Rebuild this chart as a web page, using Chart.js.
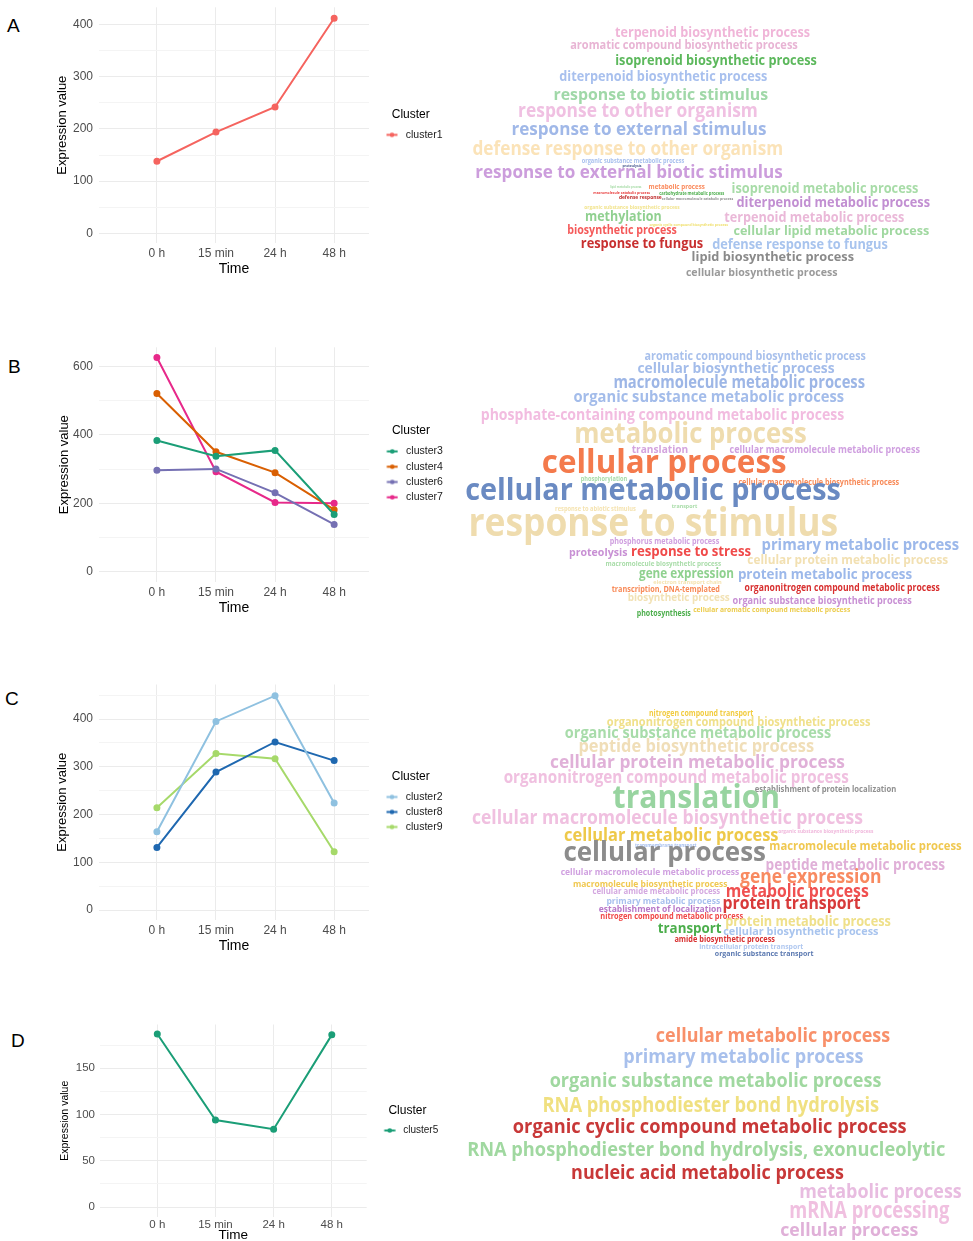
<!DOCTYPE html>
<html>
<head>
<meta charset="utf-8">
<script src="https://cdn.jsdelivr.net/npm/chart.js@4.4.1/dist/chart.umd.min.js"></script>
<style>
html, body { margin: 0; padding: 0; background: #fff; }
body { width: 973px; height: 1241px; overflow: hidden; position: relative; font-family: "Liberation Sans", Arial, sans-serif; }
canvas, .tag { position: absolute; }
.tag { font-size: 19px; line-height: 1; color: #000; }
</style>
</head>
<body>
<div class="tag" style="left:7px;top:15.5px">A</div>
<div class="tag" style="left:8px;top:356.5px">B</div>
<div class="tag" style="left:5px;top:688.5px">C</div>
<div class="tag" style="left:11px;top:1030.5px">D</div>

<canvas id="lineA" width="460" height="279" style="left:0;top:0"></canvas>
<canvas id="lineB" width="460" height="278" style="left:0;top:340px"></canvas>
<canvas id="lineC" width="460" height="276" style="left:0;top:680px"></canvas>
<canvas id="lineD" width="460" height="225" style="left:0;top:1020px"></canvas>

<canvas id="cloudA" width="513" height="270" style="left:460px;top:20px"></canvas>
<canvas id="cloudB" width="513" height="285" style="left:460px;top:340px"></canvas>
<canvas id="cloudC" width="513" height="265" style="left:460px;top:700px"></canvas>
<canvas id="cloudD" width="513" height="226" style="left:460px;top:1015px"></canvas>

<script>
// ---------------- DATA ----------------
var timeLabels = ['0 h', '15 min', '24 h', '48 h'];

// panel A
var clustersA = ['cluster1'];
var cluster1 = [138, 194, 242, 412];
var yTicksA = [0, 100, 200, 300, 400];

// panel B
var clustersB = ['cluster3', 'cluster4', 'cluster6', 'cluster7'];
var cluster3 = [384, 338, 355, 168];
var cluster4 = [521, 351, 290, 182];
var cluster6 = [297, 301, 231, 139];
var cluster7 = [626, 293, 203, 201];
var yTicksB = [0, 200, 400, 600];

// panel C
var clustersC = ['cluster2', 'cluster8', 'cluster9'];
var cluster2 = [164, 395, 449, 224];
var cluster8 = [131, 289, 352, 313];
var cluster9 = [214, 328, 317, 122];
var yTicksC = [0, 100, 200, 300, 400];

// panel D
var clustersD = ['cluster5'];
var cluster5 = [187, 94, 84, 186];
var yTicksD = [0, 50, 100, 150];

// word clouds: GO terms and their weights
var termsA = ['terpenoid biosynthetic process', 'aromatic compound biosynthetic process', 'isoprenoid biosynthetic process',
  'diterpenoid biosynthetic process', 'response to biotic stimulus', 'response to other organism',
  'response to external stimulus', 'defense response to other organism', 'organic substance metabolic process',
  'proteolysis', 'response to external biotic stimulus', 'lipid metabolic process', 'metabolic process',
  'macromolecule catabolic process', 'carbohydrate metabolic process', 'defense response',
  'cellular macromolecule catabolic process', 'organic substance biosynthetic process', 'isoprenoid metabolic process',
  'diterpenoid metabolic process', 'methylation', 'terpenoid metabolic process',
  'organic cyclic compound biosynthetic process', 'biosynthetic process', 'cellular lipid metabolic process',
  'response to fungus', 'defense response to fungus', 'lipid biosynthetic process', 'cellular biosynthetic process'];
var weightsA = [15.3, 14.1, 15.3, 15.3, 18.7, 21.7, 20.7, 21.5, 6.9, 4.1, 20.1, 3.2, 7.8, 4.3, 5.1, 6.3, 4.2, 5.9,
  15.7, 15.7, 16.4, 15.7, 4.2, 12.9, 14.4, 16, 15.9, 14.7, 12.3];

var termsB = ['aromatic compound biosynthetic process', 'cellular biosynthetic process', 'macromolecule metabolic process',
  'organic substance metabolic process', 'phosphate-containing compound metabolic process', 'metabolic process',
  'translation', 'cellular macromolecule metabolic process', 'cellular process', 'phosphorylation',
  'cellular macromolecule biosynthetic process', 'cellular metabolic process', 'transport',
  'response to abiotic stimulus', 'response to stimulus', 'phosphorus metabolic process', 'proteolysis',
  'response to stress', 'primary metabolic process', 'cellular protein metabolic process',
  'macromolecule biosynthetic process', 'gene expression', 'protein metabolic process', 'electron transport chain',
  'transcription, DNA-templated', 'organonitrogen compound metabolic process', 'biosynthetic process',
  'organic substance biosynthetic process', 'photosynthesis', 'cellular aromatic compound metabolic process'];
var weightsB = [13.7, 16, 19.1, 18.2, 18.2, 32.2, 12.1, 11.2, 36, 7.3, 8.8, 34, 6.7, 6.8, 43.5, 9.2, 12.5, 15.7,
  18.6, 13.9, 8, 14.9, 16.4, 6.7, 9.1, 11.2, 12, 11.1, 9.1, 8.4];

var termsC = ['nitrogen compound transport', 'organonitrogen compound biosynthetic process',
  'organic substance metabolic process', 'peptide biosynthetic process', 'cellular protein metabolic process',
  'organonitrogen compound metabolic process', 'establishment of protein localization', 'translation',
  'cellular macromolecule biosynthetic process', 'organic substance biosynthetic process',
  'cellular metabolic process', 'transmembrane transport', 'macromolecule metabolic process', 'cellular process',
  'peptide metabolic process', 'cellular macromolecule metabolic process', 'gene expression',
  'macromolecule biosynthetic process', 'cellular amide metabolic process', 'metabolic process',
  'primary metabolic process', 'protein transport', 'establishment of localization',
  'nitrogen compound metabolic process', 'protein metabolic process', 'transport', 'cellular biosynthetic process',
  'amide biosynthetic process', 'intracellular protein transport', 'organic substance transport'];
var weightsC = [9.1, 14.1, 17.9, 19.8, 20.4, 19.8, 9, 35.8, 21.4, 5.9, 19.4, 6.3, 14.6, 29.8, 16.9, 10.5, 22.2,
  10.7, 9.4, 19.8, 10.7, 19.1, 10, 9.6, 15.6, 16.7, 12.6, 9.1, 7.9, 8.6];

var termsD = ['cellular metabolic process', 'primary metabolic process', 'organic substance metabolic process',
  'RNA phosphodiester bond hydrolysis', 'organic cyclic compound metabolic process',
  'RNA phosphodiester bond hydrolysis, exonucleolytic', 'nucleic acid metabolic process', 'metabolic process',
  'mRNA processing', 'cellular process'];
var weightsD = [21.2, 22.6, 22.3, 23.3, 22.6, 22.5, 21.4, 22.5, 25.1, 20.3];

// ---------------- STYLE / LAYOUT ----------------
var colorsA = ['#f0b5d8', '#e8b4d4', '#5cb85c', '#a8c0ee', '#a0d8a8', '#f0c0e2', '#a0b8e8', '#fbe3b8', '#a8c0ee',
  '#4a5a90', '#cc9ddc', '#a8dca8', '#fb8a5c', '#e84040', '#4cae4c', '#c03030', '#909090', '#f2e48e', '#a8dca8',
  '#c28fd2', '#90d090', '#eab8d8', '#f0e070', '#f55a5a', '#a0d8a0', '#c83030', '#a8c4ee', '#8a8a8a', '#9a9a9a'];
var colorsB = ['#a8c0ec', '#a3bcea', '#9db6e6', '#a3bcea', '#f2bce0', '#efdcae', '#d4a4de', '#d0a0e0', '#f47a4c',
  '#a8dca8', '#f88a58', '#6a8ac2', '#a8dca8', '#f5e3b0', '#efdcae', '#d0a0e0', '#c890d4', '#f04a4a', '#9cb8ea',
  '#f2e0b2', '#a8dca8', '#8fd18f', '#9cb8ea', '#f5e3b0', '#f88a58', '#d83030', '#f2e2b5', '#c890d4', '#4cae4c',
  '#eccc4c'];
var colorsC = ['#f2cc40', '#f0e08a', '#a8dcaa', '#f0deb8', '#e0b0d8', '#f0c0e0', '#909090', '#98d4a0', '#f0c0e0',
  '#f0b8dc', '#eec94a', '#a8c0ee', '#f0c850', '#8c8c8c', '#e0b0d8', '#d0a0e0', '#f88a60', '#f0c850', '#d4a8e0',
  '#f05050', '#a8c0ee', '#d83a3a', '#b878c8', '#f04848', '#efe08a', '#4cae4c', '#a8c4ee', '#d83030', '#b0c8f0',
  '#5a78b0'];
var colorsD = ['#f8906a', '#a8c0ec', '#a0d8a0', '#f0e080', '#c83838', '#a0d8a0', '#c83838', '#e8bce0', '#f0c0e0',
  '#e0b0d8'];

// word centres in page pixels
var placeA = [[712.5, 33.3], [684, 45], [716, 61], [663.3, 77.3], [660.8, 95], [638, 111.7], [639, 130],
  [627.8, 149.3], [633, 161], [632, 165.7], [629, 173.3], [625.8, 186.7], [676.7, 186.7], [621.7, 193.3],
  [691.7, 193.7], [640.3, 197.3], [697.5, 199], [632, 207], [825, 189.3], [833.3, 203.3], [623.3, 216.7],
  [814.3, 218.3], [688.7, 224.7], [622, 230.7], [831.3, 231.7], [642, 244], [800, 245], [772.8, 257.3],
  [761.7, 273.3]];
var placeB = [[755.2, 356.7], [736, 369.3], [739.2, 383.3], [708.8, 397.7], [662.5, 415], [690.5, 435], [660, 450],
  [824.7, 450], [664.2, 464], [604, 479], [818.8, 482.3], [653, 491.7], [684.5, 506.7], [595.5, 509.3],
  [653.3, 525], [664.5, 542], [598.2, 552.7], [691, 551.7], [860.3, 545], [847.8, 560.7], [663.3, 564],
  [686.5, 574.3], [825, 575], [687.5, 582.7], [665.8, 589.7], [842.2, 588.3], [678.8, 598.3], [822.2, 600.7],
  [663.8, 613.3], [771.7, 610]];
var placeC = [[701.2, 713.3], [738.7, 722.7], [698, 733.3], [696.3, 746.7], [697.5, 762.7], [676.2, 778.3],
  [825.5, 789.3], [696.3, 799.3], [667.5, 818.3], [825.8, 831], [671.3, 835.7], [665.8, 845], [865.5, 846.7],
  [664.7, 853.3], [855.3, 865.7], [650, 872.3], [810.8, 877.7], [650.2, 884], [656.3, 892], [797.3, 891.7],
  [663.3, 901], [791.5, 904.3], [660.3, 909.3], [671.7, 916.7], [808, 921.7], [689.7, 928.3], [800.8, 931.7],
  [724.7, 940], [751.2, 946.7], [764.2, 953.3]];
var placeD = [[773, 1036.7], [743.3, 1057.3], [715.5, 1081.7], [710.8, 1106], [709.7, 1127.3], [706.2, 1150.7],
  [707.5, 1174], [880.5, 1192.3], [869.3, 1211.7], [849.2, 1230.7]];

Chart.defaults.font.family = '"Liberation Sans", Arial, sans-serif';
Chart.defaults.animation = false;

// small line+dot key like ggplot's legend
function legendKey(color) {
    var c = document.createElement('canvas');
    c.width = 22; c.height = 7;
    var g = c.getContext('2d');
    g.strokeStyle = color; g.lineWidth = 2;
    g.beginPath(); g.moveTo(10.5, 3.5); g.lineTo(21.5, 3.5); g.stroke();
    g.fillStyle = color;
    g.beginPath(); g.arc(16, 3.5, 2.3, 0, Math.PI * 2); g.fill();
    return c;
}

function lineChart(id, names, series, colors, yTicks, geo) {
    var half = (yTicks[1] - yTicks[0]) / 2;
    var gridVals = [];
    yTicks.forEach(function (t) { gridVals.push(t); if (t + half <= geo.yMax) gridVals.push(t + half); });

    var chart = new Chart(document.getElementById(id), {
        type: 'line',
        data: {
            datasets: series.map(function (vals, k) {
                return {
                    label: names[k],
                    data: vals.map(function (v, i) { return { x: i, y: v }; }),
                    borderColor: colors[k], backgroundColor: colors[k],
                    borderWidth: 2, pointRadius: 2.5, pointHoverRadius: 2.5, tension: 0
                };
            })
        },
        options: {
            responsive: false,
            events: [],
            layout: { padding: { top: geo.padTop, left: 0, right: 0, bottom: 0 } },
            scales: {
                x: {
                    type: 'linear', min: geo.xMin, max: geo.xMax,
                    afterBuildTicks: function (s) { s.ticks = timeLabels.map(function (_, i) { return { value: i }; }); },
                    afterFit: function (s) { s.height = geo.xH; s.paddingLeft = 0; s.paddingRight = 0; },
                    grid: { color: '#ebebeb', drawTicks: false },
                    border: { display: false },
                    ticks: { callback: function (v) { return timeLabels[v]; }, color: '#4d4d4d',
                        font: { size: geo.tickFont }, padding: geo.xTickPad, maxRotation: 0, autoSkip: false },
                    title: { display: true, text: 'Time', color: '#000', font: { size: geo.timeFont },
                        padding: { top: 0, bottom: geo.timePad } }
                },
                y: {
                    type: 'linear', min: geo.yMin, max: geo.yMax,
                    afterBuildTicks: function (s) { s.ticks = gridVals.map(function (v) { return { value: v }; }); },
                    afterFit: function (s) { s.width = geo.left; s.paddingTop = 0; s.paddingBottom = 0; },
                    grid: {
                        drawTicks: false,
                        color: function (c) { return yTicks.indexOf(c.tick.value) >= 0 ? '#ebebeb' : '#f4f4f4'; }
                    },
                    border: { display: false },
                    ticks: { callback: function (v) { return yTicks.indexOf(v) >= 0 ? String(v) : ''; },
                        color: '#4d4d4d', font: { size: geo.tickFont }, padding: geo.yTickPad, autoSkip: false },
                    title: { display: true, text: 'Expression value', color: '#000', font: { size: geo.yTitleFont },
                        padding: { top: geo.yTitlePad, bottom: 0 } }
                }
            },
            plugins: {
                tooltip: { enabled: false },
                legend: {
                    position: 'right', align: 'center', fullSize: false,
                    title: { display: true, text: 'Cluster', color: '#000', font: { size: geo.legTitle },
                        padding: { top: 3, bottom: geo.legTitleGap } },
                    labels: {
                        color: '#1a1a1a', font: { size: geo.legFont }, padding: geo.legPad,
                        usePointStyle: true, pointStyleWidth: 27,
                        generateLabels: function (ch) {
                            return Chart.defaults.plugins.legend.labels.generateLabels(ch).map(function (it) {
                                it.pointStyle = legendKey(ch.data.datasets[it.datasetIndex].borderColor);
                                return it;
                            });
                        }
                    }
                }
            }
        }
    });
    // push the legend so the panel ends where the reference does
    chart.options.layout.padding.right = chart.chartArea.right - geo.right;
    chart.update();
    return chart;
}

var baseGeo = { left: 99, right: 369, xMin: -0.98, xMax: 3.59, xH: 36, tickFont: 12, xTickPad: 3.5, yTickPad: 6,
    timeFont: 14, timePad: 1.2, yTitleFont: 13, yTitlePad: 55, legTitle: 12, legFont: 10.5, legPad: 4.5, legTitleGap: 2 };
function geoOf(extra) { return Object.assign({}, baseGeo, extra); }

lineChart('lineA', clustersA, [cluster1], ['#f5645f'], yTicksA,
    geoOf({ padTop: 7.3, yMin: -18.6, yMax: 433 }));
lineChart('lineB', clustersB, [cluster3, cluster4, cluster6, cluster7], ['#1b9e77', '#d95f02', '#7570b3', '#e7298a'], yTicksB,
    geoOf({ padTop: 7.3, yMin: -29.2, yMax: 656, yTitlePad: 57, legPad: 4.8 }));
lineChart('lineC', clustersC, [cluster2, cluster8, cluster9], ['#8fc1e0', '#1f68b0', '#a6d96a'], yTicksC,
    geoOf({ padTop: 3.3, yMin: -20.9, yMax: 472.4 }));
lineChart('lineD', clustersD, [cluster5], ['#1b9e77'], yTicksD,
    geoOf({ padTop: 4, left: 100, right: 366.7, xMin: -0.985, xMax: 3.6, xH: 28, tickFont: 11.5, xTickPad: 0.5,
        yTickPad: 5, timeFont: 13.5, timePad: 1.2, yTitleFont: 10.5, yTitlePad: 58.7, legFont: 10, yMin: -10.8, yMax: 197.2 }));

// ---------------- WORD CLOUDS ----------------
function cloudChart(id, terms, weights, colors, place, top, height) {
    var words = {
        id: 'words',
        afterDatasetsDraw: function (chart) {
            var ctx = chart.ctx;
            chart.getDatasetMeta(0).data.forEach(function (pt, i) {
                var txt = terms[i], w = weights[i];
                ctx.save();
                ctx.font = 'bold ' + (w * 0.9) + 'px "Open Sans"';
                var sx = (0.425 * w * txt.length) / ctx.measureText(txt).width;
                ctx.translate(pt.x, pt.y);
                ctx.scale(sx, 1);
                ctx.fillStyle = colors[i];
                ctx.textAlign = 'center';
                ctx.textBaseline = 'middle';
                ctx.fillText(txt, 0, 0);
                ctx.restore();
            });
        }
    };
    return new Chart(document.getElementById(id), {
        type: 'scatter',
        data: { datasets: [{ data: place.map(function (p) { return { x: p[0], y: p[1] }; }), pointRadius: 0 }] },
        options: {
            responsive: false, events: [],
            layout: { padding: 0 },
            scales: {
                x: { type: 'linear', display: false, min: 460, max: 973 },
                y: { type: 'linear', display: false, reverse: true, min: top, max: top + height }
            },
            plugins: { legend: { display: false }, tooltip: { enabled: false } }
        },
        plugins: [words]
    });
}

cloudChart('cloudA', termsA, weightsA, colorsA, placeA, 20, 270);
cloudChart('cloudB', termsB, weightsB, colorsB, placeB, 340, 285);
cloudChart('cloudC', termsC, weightsC, colorsC, placeC, 700, 265);
cloudChart('cloudD', termsD, weightsD, colorsD, placeD, 1015, 226);
</script>
</body>
</html>
